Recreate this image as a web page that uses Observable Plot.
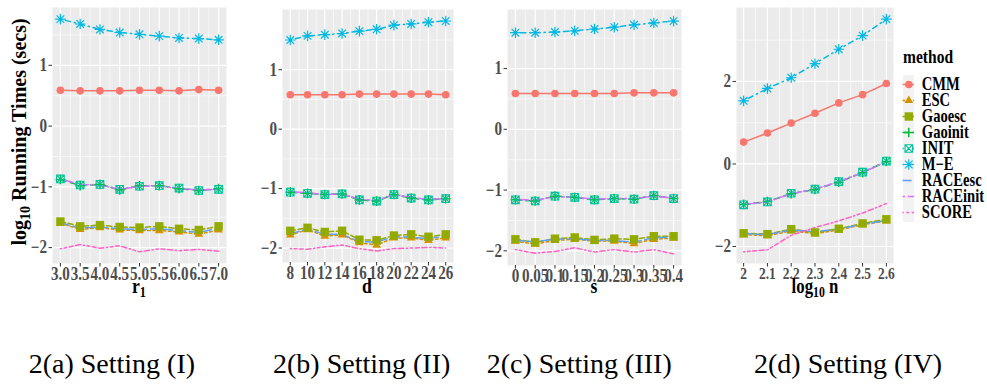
<!DOCTYPE html>
<html><head><meta charset="utf-8">
<script src="https://cdn.jsdelivr.net/npm/d3@7"></script>
<script src="https://cdn.jsdelivr.net/npm/@observablehq/plot@0.6"></script>
<style>
body{margin:0;background:#fff;}
#root{position:relative;width:987px;height:385px;overflow:hidden;font-family:'Liberation Serif';background:#fff;}
.box{position:absolute;}
.t{position:absolute;line-height:1;white-space:nowrap;color:#000;font-family:'Liberation Serif';}
.t sub{font-size:0.7em;line-height:0;vertical-align:-0.3em;}
</style></head><body><div id="root"></div>
<script>
// ---- categories / styles ----
const methods = ["CMM","ESC","Gaoesc","Gaoinit","INIT","M-E","RACEesc","RACEinit","SCORE"];
const methodLabels = ["CMM","ESC","Gaoesc","Gaoinit","INIT","M\u2212E","RACEesc","RACEinit","SCORE"];
const colors = ["#F8766D","#D39200","#93AA00","#00BA38","#00C19F","#00B9E3","#619CFF","#DB72FB","#FF61C3"];
const dashes = [null,"2.6,2.6","5.2,2.6","5.2,5.2","1.3,3.9","1.3,3.9,5.2,3.9","9.1,3.9","2.6,2.6,7.8,2.6","1.3,2.6,2.6,2.6,3.9,2.6,5.2,2.6"];

// ---- panel (a): r1 ----
const xA = [3, 3.5, 4, 4.5, 5, 5.5, 6, 6.5, 7];
const xA_labels = ["3.0","3.5","4.0","4.5","5.0","5.5","6.0","6.5","7.0"];
const A_CMM = [0.59, 0.58, 0.58, 0.58, 0.59, 0.59, 0.58, 0.60, 0.59];
const A_ESC = [-1.60, -1.70, -1.67, -1.71, -1.72, -1.72, -1.74, -1.78, -1.71];
const A_Gaoesc = [-1.57, -1.65, -1.63, -1.66, -1.67, -1.65, -1.69, -1.71, -1.65];
const A_Gaoinit = [-0.88, -0.98, -0.96, -1.05, -0.98, -0.98, -1.03, -1.06, -1.03];
const A_INIT = [-0.87, -0.97, -0.96, -1.04, -0.99, -0.98, -1.02, -1.06, -1.04];
const A_ME = [1.76, 1.68, 1.59, 1.54, 1.51, 1.48, 1.45, 1.44, 1.42];
const A_RACEesc = [-1.59, -1.68, -1.66, -1.69, -1.70, -1.69, -1.72, -1.75, -1.68];
const A_RACEinit = [-0.87, -0.96, -0.97, -1.04, -0.99, -0.98, -1.03, -1.05, -1.04];
const A_SCORE = [-2.02, -1.95, -2.01, -1.97, -2.07, -2.02, -2.05, -2.03, -2.06];

// ---- panel (b): d ----
const xB = [8, 10, 12, 14, 16, 18, 20, 22, 24, 26];
const xB_labels = ["8","10","12","14","16","18","20","22","24","26"];
const B_CMM = [0.58, 0.58, 0.58, 0.58, 0.59, 0.59, 0.59, 0.59, 0.59, 0.58];
const B_ESC = [-1.78, -1.69, -1.80, -1.78, -1.91, -1.95, -1.83, -1.83, -1.87, -1.83];
const B_Gaoesc = [-1.71, -1.66, -1.73, -1.71, -1.86, -1.87, -1.79, -1.77, -1.81, -1.77];
const B_Gaoinit = [-1.06, -1.08, -1.10, -1.09, -1.19, -1.21, -1.10, -1.16, -1.19, -1.17];
const B_INIT = [-1.06, -1.08, -1.10, -1.09, -1.19, -1.21, -1.10, -1.16, -1.19, -1.17];
const B_ME = [1.50, 1.57, 1.59, 1.61, 1.65, 1.68, 1.75, 1.77, 1.80, 1.82];
const B_RACEesc = [-1.76, -1.68, -1.77, -1.77, -1.89, -1.90, -1.81, -1.82, -1.84, -1.80];
const B_RACEinit = [-1.05, -1.07, -1.10, -1.09, -1.18, -1.20, -1.10, -1.15, -1.18, -1.17];
const B_SCORE = [-2.01, -2.02, -1.98, -1.95, -2.01, -2.05, -2.01, -2.00, -1.99, -2.00];

// ---- panel (c): s ----
const xC = [0, 0.05, 0.1, 0.15, 0.2, 0.25, 0.3, 0.35, 0.4];
const xC_labels = ["0","0.05","0.1","0.15","0.2","0.25","0.3","0.35","0.4"];
const C_CMM = [0.59, 0.59, 0.59, 0.59, 0.59, 0.59, 0.60, 0.60, 0.60];
const C_ESC = [-1.84, -1.89, -1.83, -1.81, -1.84, -1.84, -1.88, -1.81, -1.79];
const C_Gaoesc = [-1.81, -1.86, -1.80, -1.78, -1.82, -1.80, -1.81, -1.76, -1.76];
const C_Gaoinit = [-1.16, -1.18, -1.10, -1.12, -1.16, -1.14, -1.15, -1.09, -1.14];
const C_INIT = [-1.16, -1.18, -1.10, -1.12, -1.16, -1.14, -1.15, -1.09, -1.14];
const C_ME = [1.59, 1.59, 1.60, 1.62, 1.65, 1.68, 1.72, 1.75, 1.78];
const C_RACEesc = [-1.83, -1.85, -1.81, -1.80, -1.83, -1.83, -1.86, -1.78, -1.78];
const C_RACEinit = [-1.15, -1.17, -1.11, -1.12, -1.15, -1.14, -1.14, -1.10, -1.13];
const C_SCORE = [-1.98, -2.04, -2.01, -1.95, -2.02, -1.98, -2.02, -1.98, -2.05];

// ---- panel (d): log10 n ----
const xD = [2, 2.1, 2.2, 2.3, 2.4, 2.5, 2.6];
const xD_labels = ["2","2.1","2.2","2.3","2.4","2.5","2.6"];
const D_CMM = [0.53, 0.75, 0.99, 1.23, 1.48, 1.68, 1.95];
const D_ESC = [-1.71, -1.74, -1.62, -1.69, -1.60, -1.47, -1.38];
const D_Gaoesc = [-1.68, -1.70, -1.58, -1.66, -1.57, -1.44, -1.34];
const D_Gaoinit = [-0.98, -0.91, -0.72, -0.62, -0.44, -0.21, 0.06];
const D_INIT = [-0.99, -0.92, -0.71, -0.61, -0.43, -0.20, 0.07];
const D_ME = [1.53, 1.83, 2.09, 2.43, 2.78, 3.11, 3.51];
const D_RACEesc = [-1.69, -1.71, -1.60, -1.64, -1.58, -1.46, -1.37];
const D_RACEinit = [-0.98, -0.92, -0.72, -0.61, -0.43, -0.21, 0.06];
const D_SCORE = [-2.13, -2.08, -1.73, -1.54, -1.38, -1.19, -0.96];

const yMajorABC = [-2, -1, 0, 1];
const yMinorABC = [-1.5, -0.5, 0.5, 1.5];
const yMajorD = [-2, 0, 2];
const yMinorD = [-1, 1, 3];

const captions = ["2(a) Setting (I)", "2(b) Setting (II)", "2(c) Setting (III)", "2(d) Setting (IV)"];

// ---- symbols (ggplot shapes) ----
const sym = {
  circle: {draw(c){ c.moveTo(3.8,0); c.arc(0,0,3.8,0,2*Math.PI); c.closePath(); }},
  triangle: {draw(c){ c.moveTo(0,-5); c.lineTo(4.4,2.6); c.lineTo(-4.4,2.6); c.closePath(); }},
  square: {draw(c){ c.rect(-4.2,-4.2,8.4,8.4); }},
  plus: {draw(c){ c.moveTo(-4.8,0); c.lineTo(4.8,0); c.moveTo(0,-4.8); c.lineTo(0,4.8); }},
  squareCross: {draw(c){ c.rect(-3.8,-3.8,7.6,7.6); c.moveTo(-3.8,-3.8); c.lineTo(3.8,3.8); c.moveTo(3.8,-3.8); c.lineTo(-3.8,3.8); }},
  asterisk: {draw(c){ const a=5.3, b=3.8; c.moveTo(-a,0);c.lineTo(a,0);c.moveTo(0,-a);c.lineTo(0,a);c.moveTo(-b,-b);c.lineTo(b,b);c.moveTo(b,-b);c.lineTo(-b,b);}}
};
const pointStyle = {
  "CMM": {symbol: sym.circle, fill: true},
  "ESC": {symbol: sym.triangle, fill: true},
  "Gaoesc": {symbol: sym.square, fill: true},
  "Gaoinit": {symbol: sym.plus, fill: false, sw: 1.5},
  "INIT": {symbol: sym.squareCross, fill: false, sw: 1.1},
  "M-E": {symbol: sym.asterisk, fill: false, sw: 1.2}
};

const root = document.getElementById("root");
const SQ = 0.84; // horizontal squeeze of text seen in the reference
const FONT = "Liberation Serif";

function squeeze(svg, s) {
  svg.querySelectorAll("text, tspan").forEach(t => {
    const xa = t.getAttribute("x");
    if (xa != null && xa !== "" && !isNaN(+xa)) t.setAttribute("x", +xa / s);
    if (t.tagName.toLowerCase() === "text") {
      const tr = t.getAttribute("transform") || "";
      t.setAttribute("transform", `${tr} scale(${s},1)`.trim());
      t.style.fontFamily = "'Liberation Serif'";
    }
  });
}

const minus = d => d < 0 ? "\u2212" + (-d) : String(d);

function panel(cfg) {
  const rows = [];
  methods.forEach((m, k) => cfg.series[k].forEach((v, i) => rows.push({method: m, x: cfg.x[i], y: v})));
  const [lo, hi] = d3.extent(rows, d => d.y);
  const yp = (hi - lo) * 0.05;
  const [xl, xh] = d3.extent(cfg.x);
  const xp = (xh - xl) * 0.05;
  const xMinor = d3.pairs(cfg.x).map(([a, b]) => (a + b) / 2);
  const fmt = d => cfg.labels[cfg.x.indexOf(d)];
  const marks = [
    Plot.frame({fill: "#EBEBEB", stroke: "none"}),
    Plot.gridY(cfg.yMinor, {stroke: "#fff", strokeOpacity: 1, strokeWidth: 0.6}),
    Plot.gridX(xMinor, {stroke: "#fff", strokeOpacity: 1, strokeWidth: 0.6}),
    Plot.gridY(cfg.yMajor, {stroke: "#fff", strokeOpacity: 1, strokeWidth: 1.2}),
    Plot.gridX(cfg.x, {stroke: "#fff", strokeOpacity: 1, strokeWidth: 1.2})
  ];
  methods.forEach((m, k) => {
    marks.push(Plot.line(rows.filter(d => d.method === m), {
      x: "x", y: "y", stroke: colors[k], strokeWidth: 1.5,
      strokeDasharray: dashes[k] || undefined
    }));
  });
  methods.forEach((m, k) => {
    const ps = pointStyle[m];
    if (!ps) return;
    marks.push(Plot.dot(rows.filter(d => d.method === m), {
      x: "x", y: "y", symbol: ps.symbol,
      fill: ps.fill ? colors[k] : "none",
      stroke: ps.fill ? "none" : colors[k],
      strokeWidth: ps.sw || 1
    }));
  });
  marks.push(Plot.axisX(cfg.x, {tickSize: 3.5, tickPadding: 0.5, fontSize: cfg.xFont, fontWeight: "bold", fontFamily: FONT, fill: "#4D4D4D", stroke: "#333", label: null, tickFormat: fmt}));
  marks.push(Plot.axisY(cfg.yMajor, {tickSize: 3.5, tickPadding: 2, fontSize: cfg.yFont, fontWeight: "bold", fontFamily: FONT, fill: "#4D4D4D", stroke: "#333", label: null, tickFormat: minus}));
  const svg = Plot.plot({
    width: cfg.width, height: cfg.height,
    marginLeft: cfg.mL, marginTop: cfg.mT, marginRight: cfg.mR, marginBottom: cfg.mB,
    x: {domain: [xl - xp, xh + xp]},
    y: {domain: [lo - yp, hi + yp]},
    style: {background: "none", overflow: "visible", fontFamily: FONT},
    marks
  });
  squeeze(svg, SQ);
  const box = document.createElement("div");
  box.className = "box";
  box.style.left = cfg.left + "px"; box.style.top = cfg.top + "px";
  box.style.width = cfg.width + "px"; box.style.height = cfg.height + "px";
  box.appendChild(svg);
  root.appendChild(box);
}

panel({left: 0, top: 0, width: 236, height: 300, mL: 52, mT: 7, mR: 10, mB: 37,
  x: xA, labels: xA_labels, xFont: 18, yFont: 18, yMajor: yMajorABC, yMinor: yMinorABC,
  series: [A_CMM, A_ESC, A_Gaoesc, A_Gaoinit, A_INIT, A_ME, A_RACEesc, A_RACEinit, A_SCORE]});
panel({left: 240, top: 0, width: 225, height: 300, mL: 42, mT: 9, mR: 12, mB: 38,
  x: xB, labels: xB_labels, xFont: 18, yFont: 18, yMajor: yMajorABC, yMinor: yMinorABC,
  series: [B_CMM, B_ESC, B_Gaoesc, B_Gaoinit, B_INIT, B_ME, B_RACEesc, B_RACEinit, B_SCORE]});
panel({left: 480, top: 0, width: 210, height: 300, mL: 27, mT: 9, mR: 9, mB: 35,
  x: xC, labels: xC_labels, xFont: 18, yFont: 18, yMajor: yMajorABC, yMinor: yMinorABC,
  series: [C_CMM, C_ESC, C_Gaoesc, C_Gaoinit, C_INIT, C_ME, C_RACEesc, C_RACEinit, C_SCORE]});
panel({left: 720, top: 0, width: 180, height: 300, mL: 16, mT: 7, mR: 7, mB: 37,
  x: xD, labels: xD_labels, xFont: 16, yFont: 18, yMajor: yMajorD, yMinor: yMinorD,
  series: [D_CMM, D_ESC, D_Gaoesc, D_Gaoinit, D_INIT, D_ME, D_RACEesc, D_RACEinit, D_SCORE]});

// ---- legend ----
const keyBg = document.createElement("div");
keyBg.className = "box";
Object.assign(keyBg.style, {left: "902.5px", top: "74.5px", width: "11.5px", height: "147px", background: "#F2F2F2"});
root.appendChild(keyBg);

const legRows = methods.map((m, i) => ({method: m, label: methodLabels[i]}));
const legMarks = [];
methods.forEach((m, k) => {
  legMarks.push(Plot.ruleY([legRows[k]], {y: "method", x1: 7.5, x2: 19, stroke: colors[k], strokeWidth: 1.5, strokeDasharray: dashes[k] || undefined}));
  const ps = pointStyle[m];
  if (ps) legMarks.push(Plot.dot([legRows[k]], {y: "method", x: 13.3, symbol: ps.symbol,
    fill: ps.fill ? colors[k] : "none", stroke: ps.fill ? "none" : colors[k], strokeWidth: ps.sw || 1}));
});
legMarks.push(Plot.text(legRows, {y: "method", x: 26.3, text: "label", textAnchor: "start", fontSize: 18, fontWeight: "bold", fontFamily: FONT, fill: "#000"}));
const legSvg = Plot.plot({
  width: 92, height: 160, marginLeft: 0, marginRight: 0, marginTop: 12.7, marginBottom: 16.7,
  x: {domain: [0, 92], range: [0, 92], axis: null},
  y: {type: "point", domain: methods, padding: 0, axis: null},
  style: {background: "none", overflow: "visible", fontFamily: FONT},
  marks: legMarks
});
squeeze(legSvg, 0.81);
const legBox = document.createElement("div");
legBox.className = "box";
Object.assign(legBox.style, {left: "895px", top: "70px", width: "92px", height: "160px"});
legBox.appendChild(legSvg);
root.appendChild(legBox);

// ---- text ----
function label(html, x, baseline, size, o = {}) {
  const d = document.createElement("div");
  d.className = "t";
  d.innerHTML = html;
  d.style.fontFamily = "'Liberation Serif'";
  d.style.fontSize = size + "px";
  d.style.fontWeight = o.weight || "bold";
  const sx = o.sx ?? 1;
  if (o.rotate) {
    d.style.left = x + "px"; d.style.top = baseline + "px";
    d.style.transform = `translate(-50%,-50%) rotate(-90deg)`;
  } else {
    d.style.top = (baseline - 0.8375 * size) + "px";
    d.style.left = x + "px";
    if (o.anchor === "middle") d.style.transform = `translateX(-50%) scaleX(${sx})`;
    else if (sx !== 1) { d.style.transformOrigin = "0 0"; d.style.transform = `scaleX(${sx})`; }
  }
  root.appendChild(d);
}
label("log<sub>10</sub> Running Times (secs)", 19.3, 132, 20, {rotate: true});
label("r<sub>1</sub>", 139, 294, 21, {anchor: "middle", sx: SQ});
label("d", 367, 294, 21, {anchor: "middle", sx: SQ});
label("s", 594, 294, 21, {anchor: "middle", sx: SQ});
label("log<sub>10</sub> n", 814.5, 293, 20, {anchor: "middle", sx: SQ});
label("method", 903.3, 63, 18.5, {sx: SQ});

const capX = [28.7, 273, 486.7, 754];
captions.forEach((c, i) => label(c, capX[i], 373, 28, {weight: "normal"}));
</script></body></html>
